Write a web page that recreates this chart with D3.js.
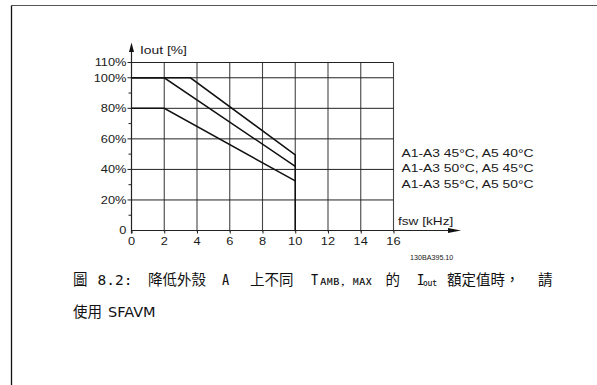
<!DOCTYPE html>
<html><head><meta charset="utf-8">
<script src="https://cdn.jsdelivr.net/npm/d3@7"></script>
<style>body{margin:0;background:#fff}svg{display:block}</style>
</head><body>
<script>
const xTickValues = [0, 2, 4, 6, 8, 10, 12, 14, 16];
const yTickValues = [0, 20, 40, 60, 80, 100, 110];
const yTickLabels = ["0", "20%", "40%", "60%", "80%", "100%", "110%"];
const yMinorTicks = [10, 30, 50, 70, 90];
const seriesNames = ["A1-A3 45°C, A5 40°C", "A1-A3 50°C, A5 45°C", "A1-A3 55°C, A5 50°C"];
const s1x = [0, 3.6, 10, 10], s1y = [100, 100, 49.5, 0];
const s2x = [0, 2, 10], s2y = [100, 100, 42];
const s3x = [0, 2, 10], s3y = [80, 80, 32.5];
const xLabel = "fsw [kHz]", yLabel = "Iout [%]", code = "130BA395.10";

const W = 597, H = 385;
const svg = d3.select("body").append("svg").attr("width", W).attr("height", H);
const x = d3.scaleLinear().domain([0, 16]).range([131.5, 393.5]);
const y = d3.scaleLinear().domain([0, 110]).range([230.5, 62.5]);
const ink = "#1a1a1a";
const SX = 1.22;
function txt(px, py, s, size, anchor, sx) {
  return svg.append("text").attr("transform", `translate(${px},${py}) scale(${sx},1)`)
    .attr("font-family", "Liberation Sans, Arial, sans-serif").attr("font-size", size)
    .attr("text-anchor", anchor || "start").attr("fill", ink).text(s);
}

// page frame
svg.append("line").attr("x1", 11.5).attr("x2", W).attr("y1", 5.5).attr("y2", 5.5).attr("stroke", "#555").attr("stroke-width", 1.2);
svg.append("line").attr("x1", 11.5).attr("x2", 11.5).attr("y1", 5.5).attr("y2", H).attr("stroke", "#111").attr("stroke-width", 1.3);

// grid
svg.append("g").selectAll("line").data(xTickValues.filter(d => d > 0)).join("line")
  .attr("x1", d => x(d)).attr("x2", d => x(d)).attr("y1", y(110)).attr("y2", y(0) + 1)
  .attr("stroke", "#444").attr("stroke-width", 1.1);
svg.append("g").selectAll("line").data(yTickValues.filter(d => d > 0)).join("line")
  .attr("x1", x(0) - 4).attr("x2", x(16)).attr("y1", d => y(d)).attr("y2", d => y(d))
  .attr("stroke", "#222").attr("stroke-width", 1);
svg.append("g").selectAll("line").data(yMinorTicks).join("line")
  .attr("x1", x(0) - 3).attr("x2", x(0)).attr("y1", d => y(d)).attr("y2", d => y(d))
  .attr("stroke", "#222").attr("stroke-width", 1);

// axes
const xAxis = d3.axisBottom(x).tickValues(xTickValues).tickSize(3).tickFormat("");
const gx = svg.append("g").attr("transform", `translate(0,${y(0)})`).call(xAxis);
gx.select(".domain").remove();
gx.selectAll("line").attr("stroke", "#222");
svg.append("line").attr("x1", x(0)).attr("x2", 452).attr("y1", y(0)).attr("y2", y(0)).attr("stroke", "#222").attr("stroke-width", 1.2);
svg.append("path").attr("d", `M448,${y(0) - 2.5}L461,${y(0)}L448,${y(0) + 2.5}Z`).attr("fill", "#111");
svg.append("line").attr("x1", x(0)).attr("x2", x(0)).attr("y1", y(0) + 3).attr("y2", 50).attr("stroke", "#222").attr("stroke-width", 1.2);
svg.append("path").attr("d", `M${x(0) - 2.5},52L${x(0)},42.5L${x(0) + 2.5},52Z`).attr("fill", "#111");

xTickValues.forEach(v => txt(x(v), 245, String(v), 10.5, "middle", SX));
yTickValues.forEach((v, i) => txt(126.5, y(v) + 3.8, yTickLabels[i], 10.5, "end", SX));
txt(140, 54, yLabel, 10.5, "start", 1.32);
txt(398, 225, xLabel, 10.5, "start", 1.3);
txt(410, 260, code, 6.5, "start", 1.1);

// series
const line = d3.line().x(d => x(d[0])).y(d => y(d[1]));
[[s1x, s1y], [s2x, s2y], [s3x, s3y]].forEach(([xs, ys]) => {
  svg.append("path").attr("d", line(xs.map((v, i) => [v, ys[i]])))
    .attr("fill", "none").attr("stroke", "#111").attr("stroke-width", 1.5);
});

// legend
seriesNames.forEach((n, i) => txt(401.5, 156.5 + i * 15.8, n, 11, "start", 1.26));

// caption
const capFont = "Noto Sans Mono CJK TC, Noto Sans CJK TC, DejaVu Sans Mono";
const capSegs = [
  {t: "圖", x: 73}, {t: "8.2:", x: 97.5, f: "DejaVu Sans Mono"}, {t: "降低外殼", x: 148}, {t: "A", x: 222},
  {t: "上不同", x: 250}, {t: "T", x: 311}, {t: "AMB, MAX", x: 320, sub: true, len: 52},
  {t: "的", x: 385.5}, {t: "I", x: 417}, {t: "out", x: 423, sub: true, len: 14, dy: 1.5},
  {t: "額定值時，", x: 447}, {t: "請", x: 538}
];
const cap = svg.append("g").attr("font-family", capFont).attr("fill", "#111");
capSegs.forEach(s => {
  const t = cap.append("text").attr("x", s.x).attr("y", 284.5 + (s.dy || 0))
    .attr("font-size", s.sub ? 9 : 14.5).text(s.t);
  if (s.f) t.attr("font-family", s.f);
  if (s.len) t.attr("textLength", s.len).attr("lengthAdjust", "spacingAndGlyphs");
});
cap.append("text").attr("x", 73).attr("y", 316.5).attr("font-size", 14.5).text("使用");
cap.append("text").attr("x", 108).attr("y", 316.5).attr("font-size", 14.5)
  .attr("font-family", "DejaVu Sans, sans-serif").text("SFAVM");
</script>
</body></html>
